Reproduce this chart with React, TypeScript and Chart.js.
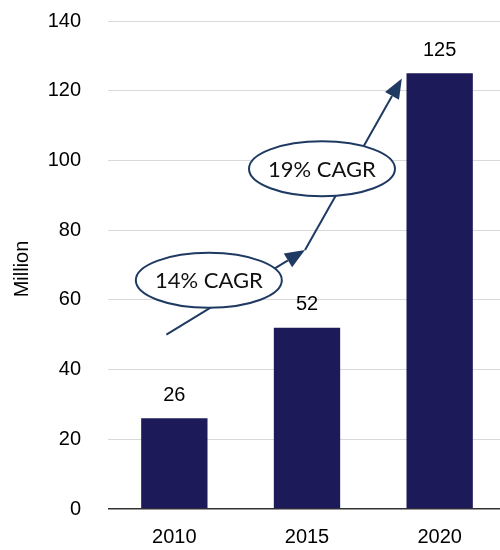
import { useEffect, useRef } from "react";
import { Chart, registerables } from "chart.js";

Chart.register(...registerables);

// Categories and values
const years = ["2010", "2015", "2020"];
const users = [26, 52, 125];
const yMin = 0;
const yMax = 140;
const yStep = 20;
const axisTitle = "Million";

// Growth path, in data space (category index, value)
const pathX = [-0.06, 0.985, 1.715];
const pathY = [50, 74.3, 123.5];
// CAGR callouts, in data space
const cagrLabels = ["14% CAGR", "19% CAGR"];
const cagrX = [0.26, 1.113];
const cagrY = [65.6, 97.6];

const SANS = "'Liberation Sans', Arial, sans-serif";
const BAR = "#1c1a58";
const NAVY = "#1f3a62";

function drawArrow(ctx: CanvasRenderingContext2D, x0: number, y0: number, x1: number, y1: number) {
  const ang = Math.atan2(y1 - y0, x1 - x0);
  const len = 20;
  const half = 8;
  const bx = x1 - len * Math.cos(ang);
  const by = y1 - len * Math.sin(ang);
  ctx.beginPath();
  ctx.moveTo(x0, y0);
  ctx.lineTo(bx, by);
  ctx.stroke();
  ctx.beginPath();
  ctx.moveTo(x1, y1);
  ctx.lineTo(bx + half * Math.sin(ang), by - half * Math.cos(ang));
  ctx.lineTo(bx - half * Math.sin(ang), by + half * Math.cos(ang));
  ctx.closePath();
  ctx.fill();
}

const valueLabels = {
  id: "valueLabels",
  afterDatasetsDraw(chart: any) {
    const { ctx } = chart;
    const meta = chart.getDatasetMeta(0);
    ctx.save();
    ctx.font = `20px ${SANS}`;
    ctx.fillStyle = "#000";
    ctx.textAlign = "center";
    ctx.textBaseline = "middle";
    meta.data.forEach((bar: any, i: number) => {
      ctx.fillText(String(users[i]), bar.x, bar.y - 23);
    });
    ctx.restore();
  },
};

const growthCallouts = {
  id: "growthCallouts",
  afterDatasetsDraw(chart: any) {
    const { ctx, scales } = chart;
    const xs = scales.x;
    const ys = scales.y;
    const pts = pathX.map((v, i) => [xs.getPixelForValue(v), ys.getPixelForValue(pathY[i])]);
    ctx.save();
    ctx.strokeStyle = NAVY;
    ctx.fillStyle = NAVY;
    ctx.lineWidth = 2;
    for (let i = 0; i < pts.length - 1; i++) {
      drawArrow(ctx, pts[i][0], pts[i][1], pts[i + 1][0], pts[i + 1][1]);
    }
    cagrLabels.forEach((label, i) => {
      const cx = xs.getPixelForValue(cagrX[i]);
      const cy = ys.getPixelForValue(cagrY[i]);
      ctx.beginPath();
      ctx.ellipse(cx, cy, 73, 27.5, 0, 0, Math.PI * 2);
      ctx.fillStyle = "#ffffff";
      ctx.fill();
      ctx.strokeStyle = NAVY;
      ctx.lineWidth = 2;
      ctx.stroke();
      ctx.font = "22px Lato, 'Open Sans', sans-serif";
      ctx.fillStyle = "#111";
      ctx.textAlign = "center";
      ctx.textBaseline = "middle";
      ctx.fillText(label, cx, cy + 1);
    });
    // y-axis title
    ctx.translate(22, 269);
    ctx.rotate(-Math.PI / 2);
    ctx.font = `20px ${SANS}`;
    ctx.fillStyle = "#000";
    ctx.textAlign = "center";
    ctx.textBaseline = "middle";
    ctx.fillText(axisTitle, 0, 0);
    ctx.restore();
  },
};

export default function App() {
  const canvasRef = useRef<HTMLCanvasElement | null>(null);

  useEffect(() => {
    const canvas = canvasRef.current;
    if (!canvas) return;
    const chart = new Chart(canvas, {
      type: "bar",
      data: {
        labels: years,
        datasets: [
          {
            data: users,
            backgroundColor: BAR,
            borderWidth: 0,
            barPercentage: 0.5,
            categoryPercentage: 1,
          },
        ],
      },
      options: {
        animation: false,
        responsive: false,
        devicePixelRatio: 1,
        layout: { padding: { top: 21, right: 0, bottom: 0, left: 0 } },
        plugins: {
          legend: { display: false },
          tooltip: { enabled: false },
        },
        scales: {
          x: {
            grid: { display: false, drawTicks: false },
            border: { display: false },
            ticks: {
              color: "#000",
              font: { family: SANS, size: 20 },
              padding: 16,
            },
            afterFit(scale: any) {
              scale.height = 41;
              scale.paddingLeft = 0;
              scale.paddingRight = 0;
            },
          },
          y: {
            min: yMin,
            max: yMax,
            grid: {
              drawTicks: false,
              color: (c: any) => (c.tick && c.tick.value === 0 ? "#333333" : "#d9d9d9"),
              lineWidth: (c: any) => (c.tick && c.tick.value === 0 ? 1.5 : 1),
            },
            border: { display: false },
            ticks: {
              stepSize: yStep,
              color: "#000",
              font: { family: SANS, size: 20 },
              padding: 27,
            },
            afterFit(scale: any) {
              scale.width = 108;
              scale.paddingTop = 0;
              scale.paddingBottom = 0;
            },
          },
        },
      },
      plugins: [valueLabels, growthCallouts],
    });
    return () => chart.destroy();
  }, []);

  return (
    <div
      style={{
        position: "fixed",
        left: 0,
        top: 0,
        width: 500,
        height: 550,
        overflow: "hidden",
        background: "#fff",
      }}
    >
      <canvas ref={canvasRef} width={506} height={550} style={{ width: 506, height: 550, display: "block" }} />
    </div>
  );
}
